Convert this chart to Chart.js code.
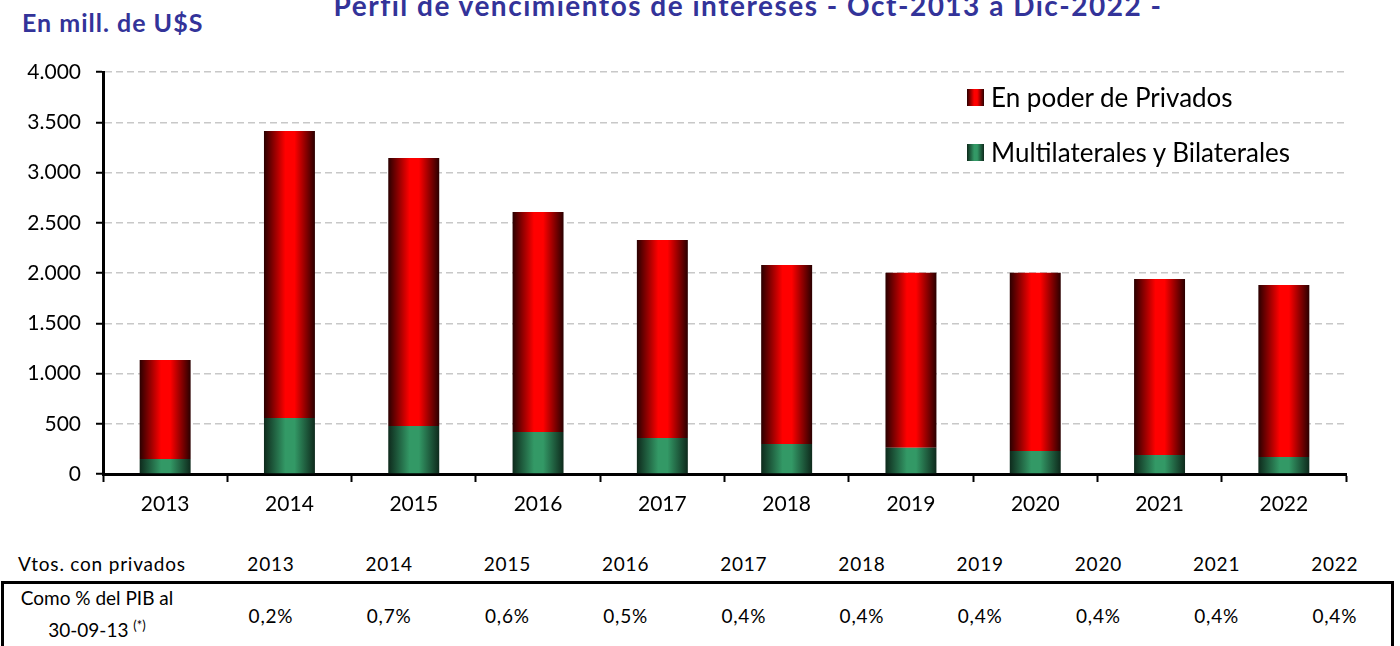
<!DOCTYPE html>
<html lang="es">
<head>
    <meta charset="UTF-8">
    <title>Perfil de vencimientos de intereses</title>
    <script src="https://cdn.jsdelivr.net/npm/chart.js@4.4.0/dist/chart.umd.min.js"></script>
    <style>
        * {
            margin: 0;
            padding: 0;
            box-sizing: border-box;
        }

        body {
            background: #fff;
            font-family: Lato, "Noto Sans", sans-serif;
            overflow: hidden;
        }

        .page {
            position: relative;
            width: 1400px;
            height: 646px;
        }

        .title {
            position: absolute;
            top: -12px;
            left: 0;
            width: 1496px;
            text-align: center;
            color: #333399;
            font-weight: bold;
            font-size: 28px;
            letter-spacing: 1.5px;
            white-space: nowrap;
        }

        .unit {
            position: absolute;
            top: 7px;
            left: 22px;
            color: #333399;
            font-weight: bold;
            font-size: 25px;
            letter-spacing: 1px;
        }

        .chart-box {
            position: absolute;
            top: 0;
            left: 0;
            width: 1400px;
            height: 530px;
        }

        .legend {
            position: absolute;
            left: 967px;
            top: 82px;
        }

        .legend-item {
            display: flex;
            align-items: center;
            height: 30px;
            margin-bottom: 25px;
            font-size: 26px;
            color: #000;
        }

        .legend-item span.box {
            width: 17px;
            height: 17px;
            margin-right: 7px;
        }

        .cell {
            position: absolute;
            transform: translateX(-50%);
            font-size: 19px;
            letter-spacing: 0.8px;
            white-space: nowrap;
            color: #000;
        }

        .cell.plain {
            letter-spacing: 0;
        }

        .pib-box {
            position: absolute;
            left: 1px;
            top: 581px;
            width: 1393px;
            height: 80px;
            border: 3px solid #000;
        }
    </style>
</head>
<body>
<div class="page">
    <div class="title">Perfil de vencimientos de intereses - Oct-2013 a Dic-2022 -</div>
    <div class="unit">En mill. de U$S</div>
    <div class="chart-box"><canvas id="chart" width="1400" height="530"></canvas></div>
    <div class="legend" id="legend"></div>
    <div class="pib-box"></div>
    <div id="table"></div>
</div>

<script>
    // Data (millions of U$S)
    const years = ['2013', '2014', '2015', '2016', '2017', '2018', '2019', '2020', '2021', '2022'];
    const multilaterales = [149, 557, 478, 418, 358, 299, 262, 229, 189, 169];
    const privados = [985, 2856, 2666, 2189, 1970, 1781, 1741, 1774, 1751, 1712];
    const seriesLabels = ['Multilaterales y Bilaterales', 'En poder de Privados'];
    const yTicks = [0, 500, 1000, 1500, 2000, 2500, 3000, 3500, 4000];

    // Table below the chart
    const tableYears = ['2013', '2014', '2015', '2016', '2017', '2018', '2019', '2020', '2021', '2022'];
    const pibPct = ['0,2%', '0,7%', '0,6%', '0,5%', '0,4%', '0,4%', '0,4%', '0,4%', '0,4%', '0,4%'];

    // gradient stops (edge -> centre -> edge)
    const redStops = [[0, '#2a0000'], [0.42, '#ff0000'], [0.6, '#ff0000'], [1, '#2a0000']];
    const greenStops = [[0, '#0e2a1c'], [0.42, '#339966'], [0.6, '#339966'], [1, '#0e2a1c']];

    const gradientBars = {
        id: 'gradientBars',
        beforeDatasetsDraw(chart) {
            const ctx = chart.ctx;
            chart.data.datasets.forEach((ds, i) => {
                const meta = chart.getDatasetMeta(i);
                meta.data.forEach(bar => {
                    const half = bar.width / 2;
                    const g = ctx.createLinearGradient(bar.x - half, 0, bar.x + half, 0);
                    ds.stops.forEach(s => g.addColorStop(s[0], s[1]));
                    bar.options = Object.assign({}, bar.options, { backgroundColor: g });
                });
            });
        }
    };

    const chart = new Chart(document.getElementById('chart'), {
        type: 'bar',
        data: {
            labels: years,
            datasets: [
                {
                    label: seriesLabels[0],
                    data: multilaterales,
                    backgroundColor: '#339966',
                    stops: greenStops
                },
                {
                    label: seriesLabels[1],
                    data: privados,
                    backgroundColor: '#ff0000',
                    stops: redStops
                }
            ]
        },
        options: {
            responsive: false,
            animation: false,
            layout: { padding: { top: 72, right: 54, left: 0, bottom: 0 } },
            plugins: {
                legend: { display: false },
                tooltip: { enabled: false }
            },
            datasets: {
                bar: { barPercentage: 0.41, categoryPercentage: 1 }
            },
            scales: {
                x: {
                    stacked: true,
                    grid: {
                        offset: true,
                        drawOnChartArea: false,
                        drawTicks: true,
                        tickLength: 8,
                        tickWidth: 2,
                        tickColor: '#000'
                    },
                    border: { color: '#000', width: 3 },
                    ticks: {
                        color: '#000',
                        padding: 10,
                        font: { family: 'Lato', size: 21 }
                    },
                    afterFit(scale) { scale.height = 56; }
                },
                y: {
                    stacked: true,
                    min: 0,
                    max: 4000,
                    afterBuildTicks(scale) {
                        scale.ticks = yTicks.map(v => ({ value: v }));
                    },
                    grid: {
                        color: '#c8c8c8',
                        lineWidth: 1.5,
                        tickColor: '#000',
                        tickWidth: 2,
                        tickLength: 7,
                        tickBorderDash: [],
                        tickBorderDashOffset: 0
                    },
                    border: { color: '#000', width: 3, dash: [7, 4] },
                    ticks: {
                        color: '#000',
                        padding: 15,
                        font: { family: 'Lato', size: 21 },
                        callback: v => v.toLocaleString('de-DE')
                    },
                    afterFit(scale) { scale.width = 103; }
                }
            }
        },
        plugins: [gradientBars]
    });

    // HTML legend (top entry = upper series)
    const legend = document.getElementById('legend');
    [1, 0].forEach(i => {
        const ds = chart.data.datasets[i];
        const item = document.createElement('div');
        item.className = 'legend-item';
        const box = document.createElement('span');
        box.className = 'box';
        box.style.background = 'linear-gradient(to right, ' + ds.stops.map(s => s[1] + ' ' + (s[0] * 100) + '%').join(', ') + ')';
        const txt = document.createElement('span');
        txt.textContent = ds.label;
        item.appendChild(box);
        item.appendChild(txt);
        legend.appendChild(item);
    });

    // Table under the chart
    const table = document.getElementById('table');
    function addCell(text, x, y, html, cls) {
        const d = document.createElement('div');
        d.className = 'cell' + (cls ? ' ' + cls : '');
        d.style.left = x + 'px';
        d.style.top = y + 'px';
        if (html) d.innerHTML = text; else d.textContent = text;
        table.appendChild(d);
    }
    addCell('Vtos. con privados', 102, 552);
    addCell('Como % del PIB al', 97, 586, false, 'plain');
    addCell('30-09-13 <sup style="font-size:13px">(*)</sup>', 97, 617, true, 'plain');
    tableYears.forEach((y, i) => {
        const x = 271 + i * 118.2;
        addCell(y, x, 552);
        addCell(pibPct[i], x, 604);
    });
</script>
</body>
</html>
